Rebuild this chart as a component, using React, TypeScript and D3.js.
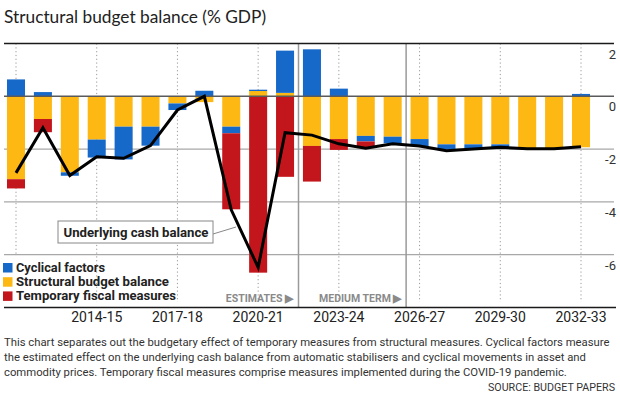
import React from 'react';
import * as d3 from 'd3';

const years = [
	'2011-12', '2012-13', '2013-14', '2014-15', '2015-16', '2016-17', '2017-18', '2018-19',
	'2019-20', '2020-21', '2021-22', '2022-23', '2023-24', '2024-25', '2025-26', '2026-27',
	'2027-28', '2028-29', '2029-30', '2030-31', '2031-32', '2032-33',
];

// % of GDP
const structural = [-3.14, -0.86, -2.88, -1.64, -1.15, -1.15, -0.27, -0.22, -1.15, 0.2, 0.13, -1.88, -1.62, -1.5, -1.53, -1.62, -1.82, -1.82, -1.82, -1.97, -1.97, -1.93];
const cyclical = [0.64, 0.16, -0.13, -0.68, -1.24, -0.72, -0.25, 0.21, -0.25, 0.05, 1.6, 1.78, 0.29, -0.21, -0.25, -0.27, -0.19, -0.18, -0.11, 0, 0, 0.09];
const temporary = [-0.35, -0.5, 0, 0, 0, 0, 0, 0, -2.88, -6.68, -3.05, -1.35, -0.41, -0.25, 0, 0, 0, 0, 0, 0, 0, 0];
const cashBalance = [-2.9, -1.19, -3.0, -2.29, -2.35, -1.87, -0.52, 0.0, -4.3, -6.48, -1.38, -1.47, -1.8, -1.97, -1.8, -1.88, -2.06, -2.0, -1.93, -1.99, -1.99, -1.91];

const yTicks = [2, 0, -2, -4, -6];
const xTickYears = ['2011-12', '2014-15', '2017-18', '2020-21', '2023-24', '2026-27', '2029-30', '2032-33'];
const xLabelYears = ['2014-15', '2017-18', '2020-21', '2023-24', '2026-27', '2029-30', '2032-33'];

const seriesKeys = ['structural', 'cyclical', 'temporary'];
const colors: Record<string, string> = {
	cyclical: '#1769c9',
	structural: '#fdb813',
	temporary: '#c3161c',
};
const legendItems = [
	{ key: 'cyclical', label: 'Cyclical factors', w: 89 },
	{ key: 'structural', label: 'Structural budget balance', w: 153 },
	{ key: 'temporary', label: 'Temporary fiscal measures', w: 160 },
];

const notes = [
	'This chart separates out the budgetary effect of temporary measures from structural measures. Cyclical factors measure',
	'the estimated effect on the underlying cash balance from automatic stabilisers and cyclical movements in asset and',
	'commodity prices. Temporary fiscal measures comprise measures implemented during the COVID-19 pandemic.',
];

const FONT = 'Roboto, "Noto Sans", sans-serif';

const App: React.FC = () => {
	const rows = years.map((yr, i) => ({
		year: yr,
		structural: structural[i],
		cyclical: cyclical[i],
		temporary: temporary[i],
	}));

	const x = d3.scalePoint<string>().domain(years).range([16, 581]);
	const y = d3.scaleLinear().domain([-8, 2]).range([307.5, 43.5]);
	const barW = x.step() * 0.67;

	const stacked = d3
		.stack<any>()
		.keys(seriesKeys)
		.offset(d3.stackOffsetDiverging)(rows);

	const line = d3
		.line<number>()
		.x((_, i) => x(years[i]) as number)
		.y((d) => y(d));

	const left = 4;
	const right = 614;

	const div1 = ((x('2021-22') as number) + (x('2022-23') as number)) / 2;
	const div2 = ((x('2025-26') as number) + (x('2026-27') as number)) / 2;

	return (
		<svg
			width={620}
			height={398}
			style={{ position: 'absolute', left: 0, top: 0, background: '#fff' }}
			fontFamily={FONT}
		>
			<text x={4} y={23} fontFamily='Lato, sans-serif' fontSize={18} fill='#222' textLength={262} lengthAdjust='spacingAndGlyphs'>
				Structural budget balance (% GDP)
			</text>

			{/* horizontal grid */}
			{yTicks.filter((t) => t !== 0 && t !== 2).map((t) => (
				<line key={t} x1={left} x2={right} y1={y(t)} y2={y(t)} stroke='#a8a8a8' strokeWidth={1.2} />
			))}

			{/* dotted year lines */}
			{xTickYears.map((yr, i) => (
				<line
					key={yr}
					x1={x(yr)}
					x2={x(yr)}
					y1={y(2)}
					y2={i === 0 ? y(-6) : 302}
					stroke='#9a9a9a'
					strokeWidth={1}
					strokeDasharray='1.2,2.6'
				/>
			))}

			{/* estimates / medium term dividers */}
			{[div1, div2].map((d) => (
				<line key={d} x1={d} x2={d} y1={y(2)} y2={y(-8)} stroke='#9a9a9a' strokeWidth={1.5} />
			))}

			{/* stacked bars */}
			{stacked.map((s) => (
				<g key={s.key} fill={colors[s.key]}>
					{s.map((d, i) => {
						const y0 = y(d[0]);
						const y1 = y(d[1]);
						const h = Math.abs(y0 - y1);
						if (h < 0.01) return null;
						return (
							<rect
								key={i}
								x={(x(years[i]) as number) - barW / 2}
								y={Math.min(y0, y1)}
								width={barW}
								height={h}
							/>
						);
					})}
				</g>
			))}

			{/* zero and frame lines */}
			<line x1={left} x2={right} y1={y(0)} y2={y(0)} stroke='#5a5a5a' strokeWidth={1.5} />
			<line x1={left} x2={right} y1={y(2)} y2={y(2)} stroke='#1a1a1a' strokeWidth={1.5} />
			<line x1={left} x2={616} y1={y(-8)} y2={y(-8)} stroke='#1a1a1a' strokeWidth={1.5} />

			{/* underlying cash balance */}
			<path d={line(cashBalance) || ''} fill='none' stroke='#000' strokeWidth={3} strokeLinejoin='miter' />

			{/* annotation */}
			<line x1={213} y1={234} x2={236} y2={227} stroke='#888' strokeWidth={1} />
			<rect x={58} y={221} width={155} height={22} fill='#fff' stroke='#888' strokeWidth={1} />
			<text x={63.5} y={236.5} fontSize={13.5} fontWeight={700} fill='#222' textLength={145} lengthAdjust='spacingAndGlyphs'>
				Underlying cash balance
			</text>

			{/* y labels */}
			{yTicks.map((t) => (
				<text key={t} x={616} y={y(t) + 15} textAnchor='end' fontSize={13} fill='#333'>
					{t}
				</text>
			))}

			{/* x labels */}
			{xLabelYears.map((yr) => (
				<text key={yr} x={x(yr)} y={322} textAnchor='middle' fontSize={14} fill='#222'>
					{yr}
				</text>
			))}

			{/* period labels */}
			<text x={293} y={301.5} textAnchor='end' fontSize={10.5} fontWeight={700} fill='#8a8a8a'>
				ESTIMATES ▶
			</text>
			<text x={401.5} y={301.5} textAnchor='end' fontSize={10.5} fontWeight={700} fill='#8a8a8a'>
				MEDIUM TERM ▶
			</text>

			{/* legend */}
			{legendItems.map((item, i) => {
				const cy = 267.5 + i * 14.2;
				return (
					<g key={item.key}>
						<rect x={3} y={cy - 4.5} width={9.5} height={9.5} fill={colors[item.key]} />
						<text
							x={16}
							y={cy + 4.5}
							fontSize={12.5}
							fontWeight={700}
							fill='#222'
							textLength={item.w}
							lengthAdjust='spacingAndGlyphs'
						>
							{item.label}
						</text>
					</g>
				);
			})}

			{/* notes */}
			{notes.map((n, i) => (
				<text key={i} x={4} y={345.5 + i * 15} fontSize={11.3} fill='#333'>
					{n}
				</text>
			))}
			<text x={615} y={391} textAnchor='end' fontSize={11} fill='#333' textLength={127} lengthAdjust='spacingAndGlyphs'>
				SOURCE: BUDGET PAPERS
			</text>
		</svg>
	);
};

export default App;
